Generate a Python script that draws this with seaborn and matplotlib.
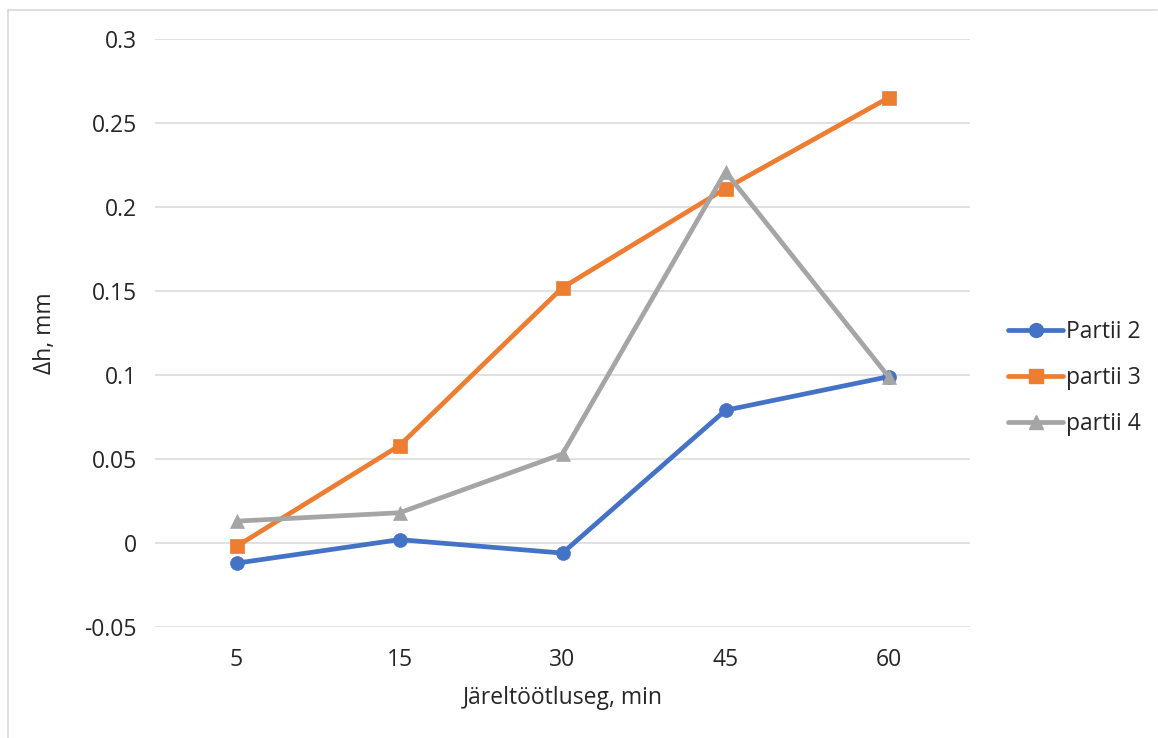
import numpy as np
import pandas as pd
import matplotlib
matplotlib.use("Agg")
import matplotlib.pyplot as plt
from matplotlib.lines import Line2D
from matplotlib.ticker import FuncFormatter, MultipleLocator
import seaborn as sns

# Post-processing time (min) and height change per batch (mm)
times = ["5", "15", "30", "45", "60"]
partii_2 = [-0.012, 0.002, -0.006, 0.079, 0.099]
partii_3 = [-0.002, 0.058, 0.152, 0.211, 0.265]
partii_4 = [0.013, 0.018, 0.053, 0.221, 0.099]
series_names = ["Partii 2", "partii 3", "partii 4"]
colors = ["#4472C4", "#ED7D31", "#A5A5A5"]
markers = ["o", "s", "^"]

df = pd.DataFrame({
    "time": times * 3,
    "dh": partii_2 + partii_3 + partii_4,
    "series": [s for s in series_names for _ in times],
})

sns.set_theme(style="white")
plt.rcParams["font.family"] = ["Open Sans", "DejaVu Sans"]
plt.rcParams["text.color"] = "#262626"

FS = 16.5

fig = plt.figure(figsize=(11.58, 7.38), dpi=100)
ax = fig.add_axes([155 / 1158, 1 - 627 / 738, 815 / 1158, 588 / 738])

palette = dict(zip(series_names, colors))
marker_map = dict(zip(series_names, markers))
sns.lineplot(data=df, x="time", y="dh", hue="series", style="series",
             hue_order=series_names, style_order=series_names,
             palette=palette, markers=marker_map, dashes=False,
             linewidth=3.4, markersize=10, legend=False, ax=ax, sort=False)
for ln in ax.lines:
    ln.set_markeredgecolor(ln.get_color())
    ln.set_markerfacecolor(ln.get_color())
    ln.set_markeredgewidth(0.5)
    ln.set_solid_joinstyle("round")
    ln.set_solid_capstyle("round")

ax.set_xlim(-0.5, len(times) - 0.5)
ax.set_ylim(-0.05, 0.3)
ax.yaxis.set_major_locator(MultipleLocator(0.05))
ax.yaxis.set_major_formatter(FuncFormatter(lambda v, p: f"{round(v, 2):g}"))
ax.grid(axis="y", color="#d9d9d9", linewidth=1.1)
ax.grid(axis="x", visible=False)
for s in ax.spines.values():
    s.set_visible(False)
ax.tick_params(axis="both", length=0, labelsize=FS, colors="#262626")
ax.tick_params(axis="y", pad=13)
ax.tick_params(axis="x", pad=15)
ax.set_axisbelow(True)

ax.set_xlabel("Järeltöötluseg, min", fontsize=FS, labelpad=10, color="#262626")
ax.set_ylabel("Δh, mm", fontsize=FS, labelpad=20, color="#262626")

handles = [Line2D([0], [0], color=c, marker=m, linewidth=3.4, markersize=10,
                  markeredgecolor=c, solid_capstyle="round")
           for c, m in zip(colors, markers)]
fig.legend(handles, series_names, loc="center left",
           bbox_to_anchor=(1008 / 1158, 1 - 378 / 738), frameon=False,
           fontsize=FS, handlelength=2.4, handletextpad=0.15,
           labelspacing=0.95, borderpad=0, borderaxespad=0)

# chart area border
fig.add_artist(Line2D([8 / 1158, 8 / 1158], [0, 1 - 10 / 738], transform=fig.transFigure,
                      color="#d9d9d9", linewidth=1.2))
fig.add_artist(Line2D([8 / 1158, 1157 / 1158], [1 - 10 / 738, 1 - 10 / 738],
                      transform=fig.transFigure, color="#d9d9d9", linewidth=1.2))

fig.savefig("out.png", dpi=100, facecolor="white")
